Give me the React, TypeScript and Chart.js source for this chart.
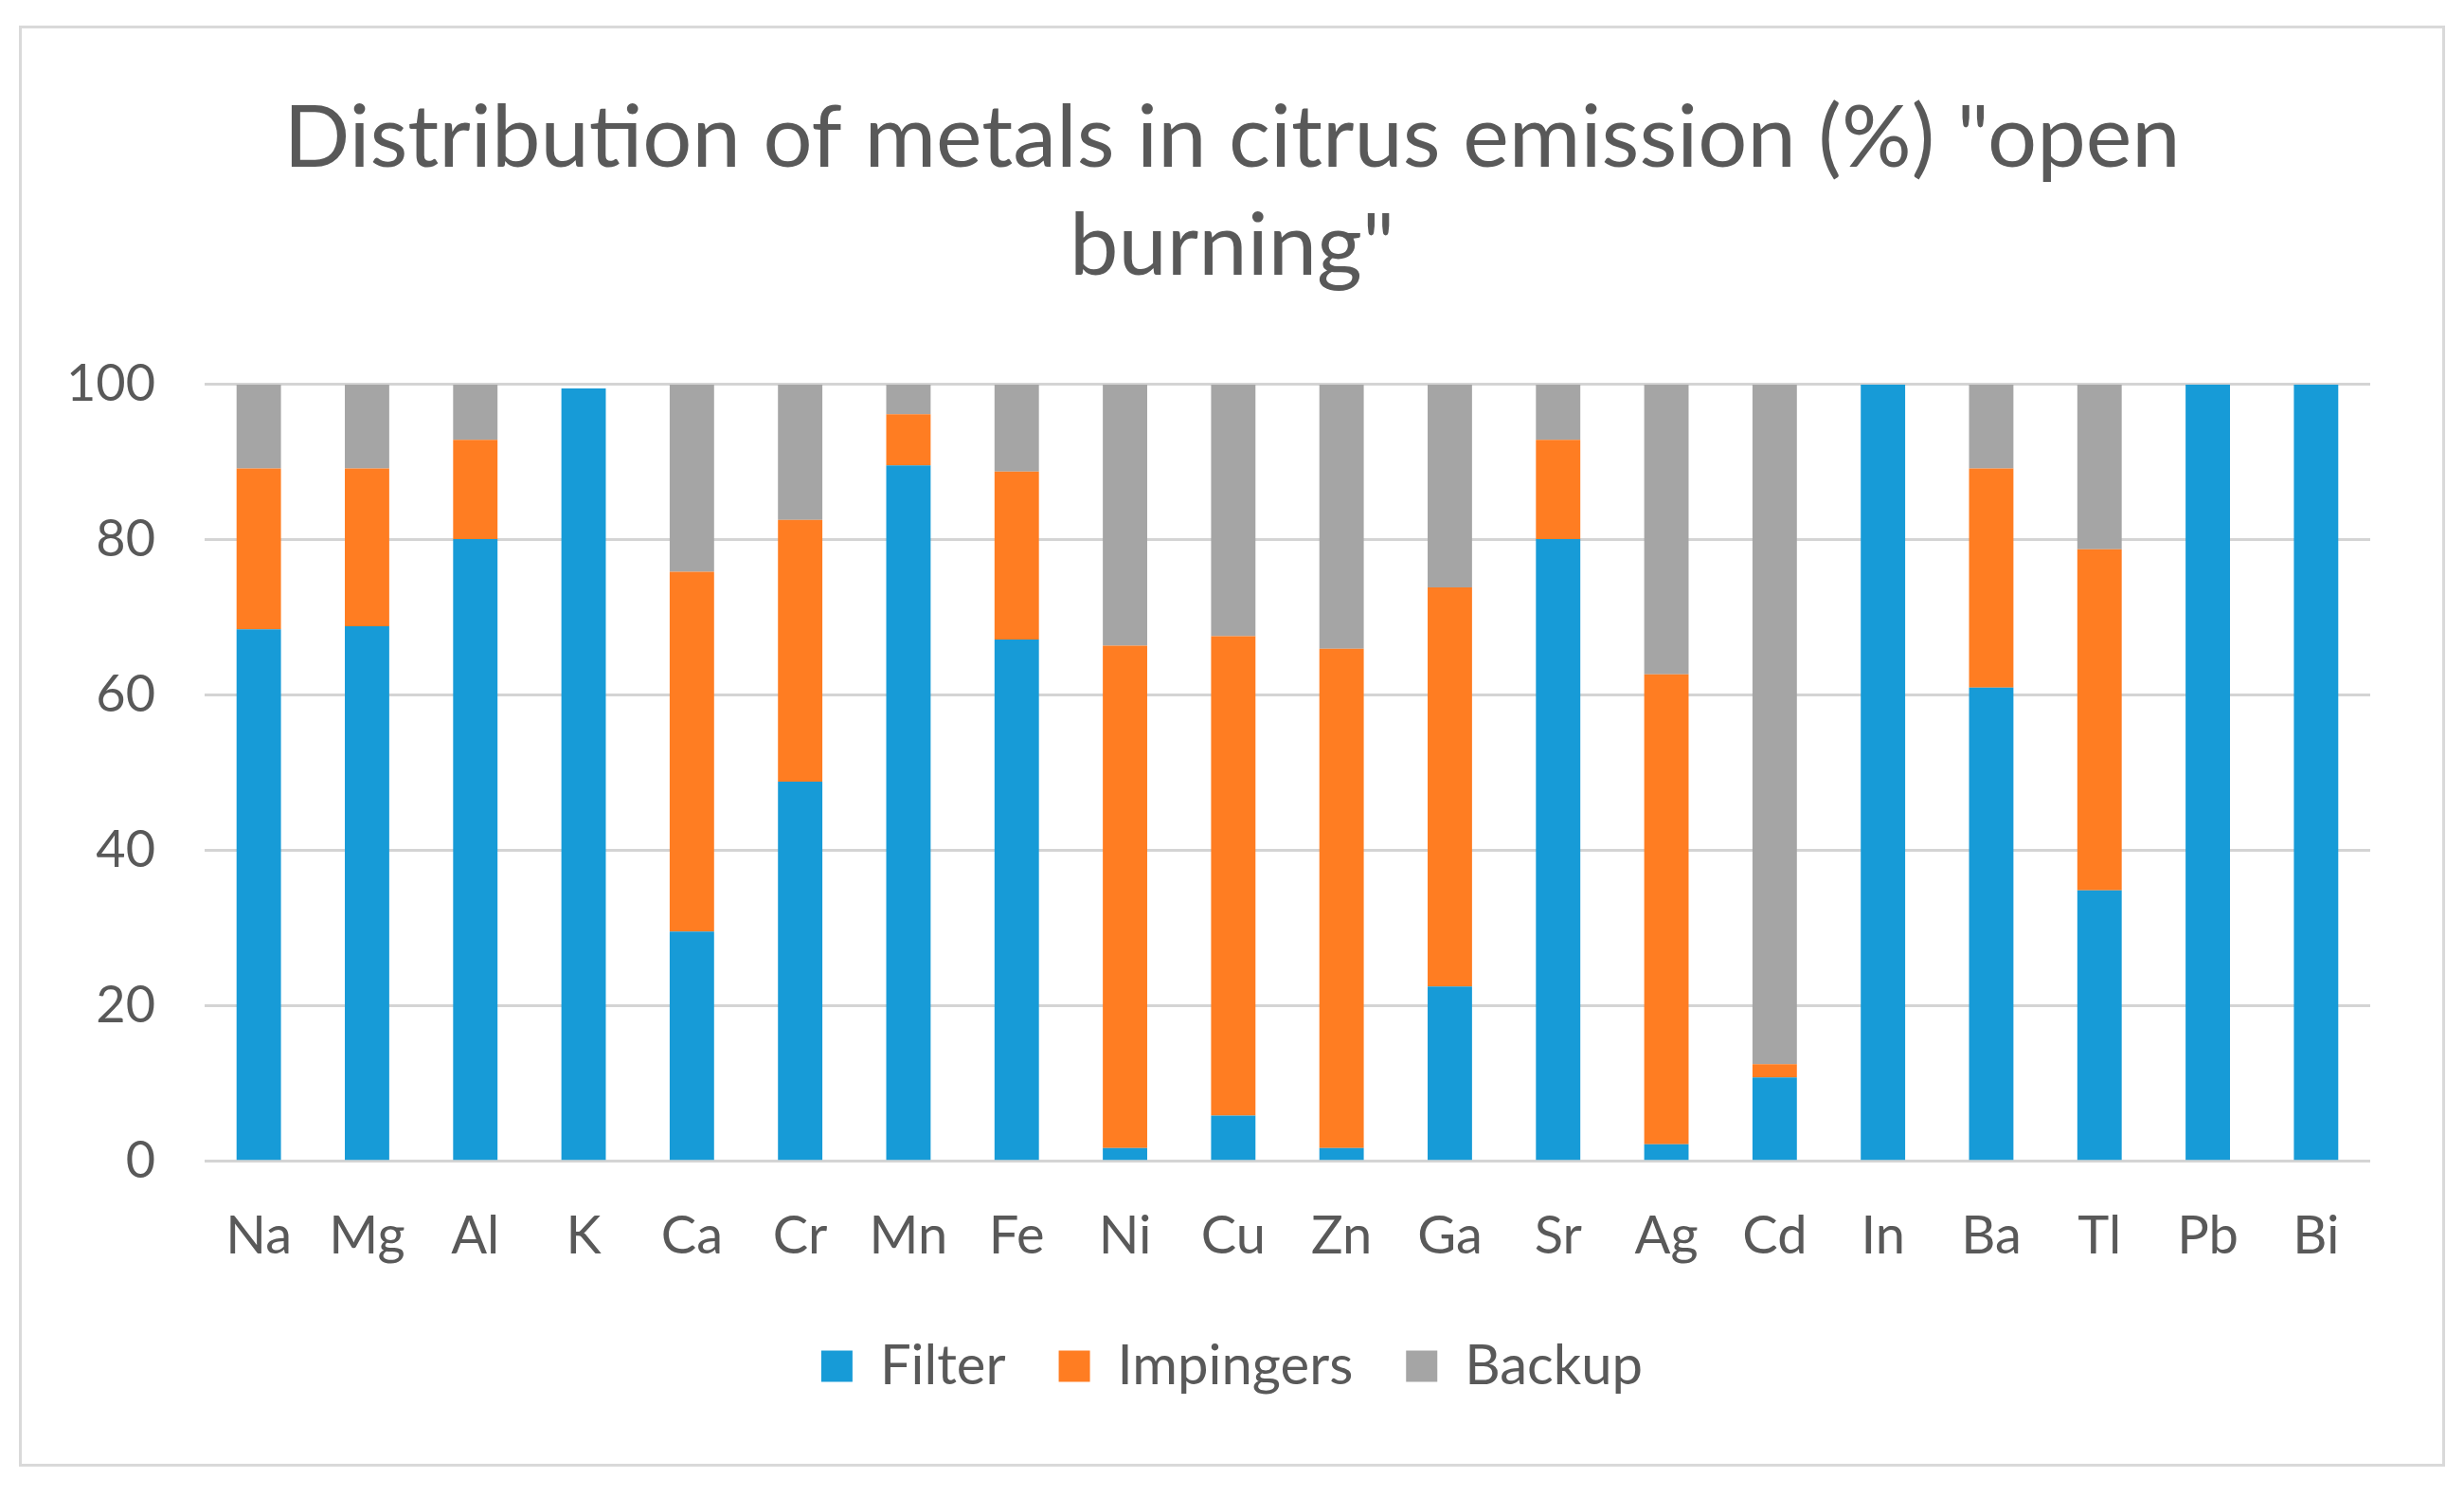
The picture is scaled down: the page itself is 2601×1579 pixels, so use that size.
import React, { useEffect, useRef } from "react";
import { Chart, registerables } from "chart.js";

Chart.register(...registerables);

const categories = ["Na", "Mg", "Al", "K", "Ca", "Cr", "Mn", "Fe", "Ni", "Cu", "Zn", "Ga", "Sr", "Ag", "Cd", "In", "Ba", "Tl", "Pb", "Bi"];
const filterValues = [68.5, 68.9, 80.1, 99.5, 29.6, 48.9, 89.6, 67.2, 1.7, 5.9, 1.7, 22.5, 80.1, 2.2, 10.8, 100, 61.0, 34.9, 100, 100];
const impingerValues = [20.7, 20.3, 12.8, 0, 46.3, 33.7, 6.6, 21.6, 64.7, 61.7, 64.3, 51.4, 12.8, 60.5, 1.7, 0, 28.2, 43.9, 0, 0];
const backupValues = [10.8, 10.8, 7.1, 0, 24.1, 17.4, 3.8, 11.2, 33.6, 32.4, 34.0, 26.1, 7.1, 37.3, 87.5, 0, 10.8, 21.2, 0, 0];
const yTicks = [0, 20, 40, 60, 80, 100];
const titleLines = ['Distribution of metals in citrus emission (%) "open', 'burning"'];
const seriesNames = ["Filter", "Impingers", "Backup"];

const W = 2601;
const H = 1579;
const FONT = "Lato, 'Open Sans', sans-serif";
const TEXT = "#595959";
const GRID = "#d4d4d4";

export default function App() {
  const ref = useRef<HTMLCanvasElement | null>(null);

  useEffect(() => {
    let chart: Chart | null = null;
    let cancelled = false;
    const make = () => {
      if (cancelled || !ref.current) return;
      chart = new Chart(ref.current, {
        type: "bar",
        data: {
          labels: categories,
          datasets: [
            { label: seriesNames[0], data: filterValues, backgroundColor: "#179bd7" },
            { label: seriesNames[1], data: impingerValues, backgroundColor: "#ff7d22" },
            { label: seriesNames[2], data: backupValues, backgroundColor: "#a5a5a5" },
          ],
        },
        options: {
          animation: false,
          responsive: false,
          devicePixelRatio: 1,
          layout: { padding: { left: 0, right: 0, top: 0, bottom: 98 } },
          datasets: { bar: { categoryPercentage: 1, barPercentage: 0.41 } },
          plugins: {
            tooltip: { enabled: false },
            title: {
              display: true,
              text: titleLines,
              color: TEXT,
              font: { family: FONT, size: 92, weight: "normal", lineHeight: 1.239 },
              padding: { top: 89, bottom: 89 },
            },
            legend: {
              position: "bottom",
              labels: {
                color: TEXT,
                font: { family: FONT, size: 58 },
                boxWidth: 33,
                boxHeight: 33,
                padding: 56,
              },
            },
          },
          scales: {
            x: {
              stacked: true,
              grid: { display: false },
              border: { display: false },
              ticks: { color: TEXT, font: { family: FONT, size: 56 }, padding: 38, maxRotation: 0, autoSkip: false },
              afterFit: (s: any) => {
                s.height = s.height - 20;
              },
            },
            y: {
              stacked: true,
              min: 0,
              max: 100,
              afterBuildTicks: (s: any) => {
                s.ticks = yTicks.map((v) => ({ value: v }));
              },
              afterFit: (s: any) => {
                s.width = 216;
              },
              grid: { color: GRID, lineWidth: 3, drawTicks: false },
              border: { display: false },
              ticks: { color: TEXT, font: { family: FONT, size: 54 }, padding: 52 },
            },
            yRight: {
              type: "linear",
              position: "right",
              min: 0,
              max: 1,
              display: true,
              grid: { display: false, drawTicks: false },
              border: { display: false },
              ticks: { display: false },
              afterFit: (s: any) => {
                s.width = 99;
              },
            },
          },
        },
      });
    };
    if ((document as any).fonts && (document as any).fonts.load) {
      (document as any).fonts.load("54px Lato").then(make, make);
    } else {
      make();
    }
    return () => {
      cancelled = true;
      if (chart) chart.destroy();
    };
  }, []);

  return (
    <div style={{ position: "fixed", left: 0, top: 0, width: W, height: H, background: "#ffffff" }}>
      <canvas ref={ref} width={W} height={H} style={{ position: "absolute", left: 0, top: 0, width: W, height: H }} />
      <div
        style={{
          position: "absolute",
          left: 20,
          top: 27,
          width: 2561,
          height: 1521,
          border: "3px solid #d9d9d9",
          boxSizing: "border-box",
          pointerEvents: "none",
        }}
      />
    </div>
  );
}
